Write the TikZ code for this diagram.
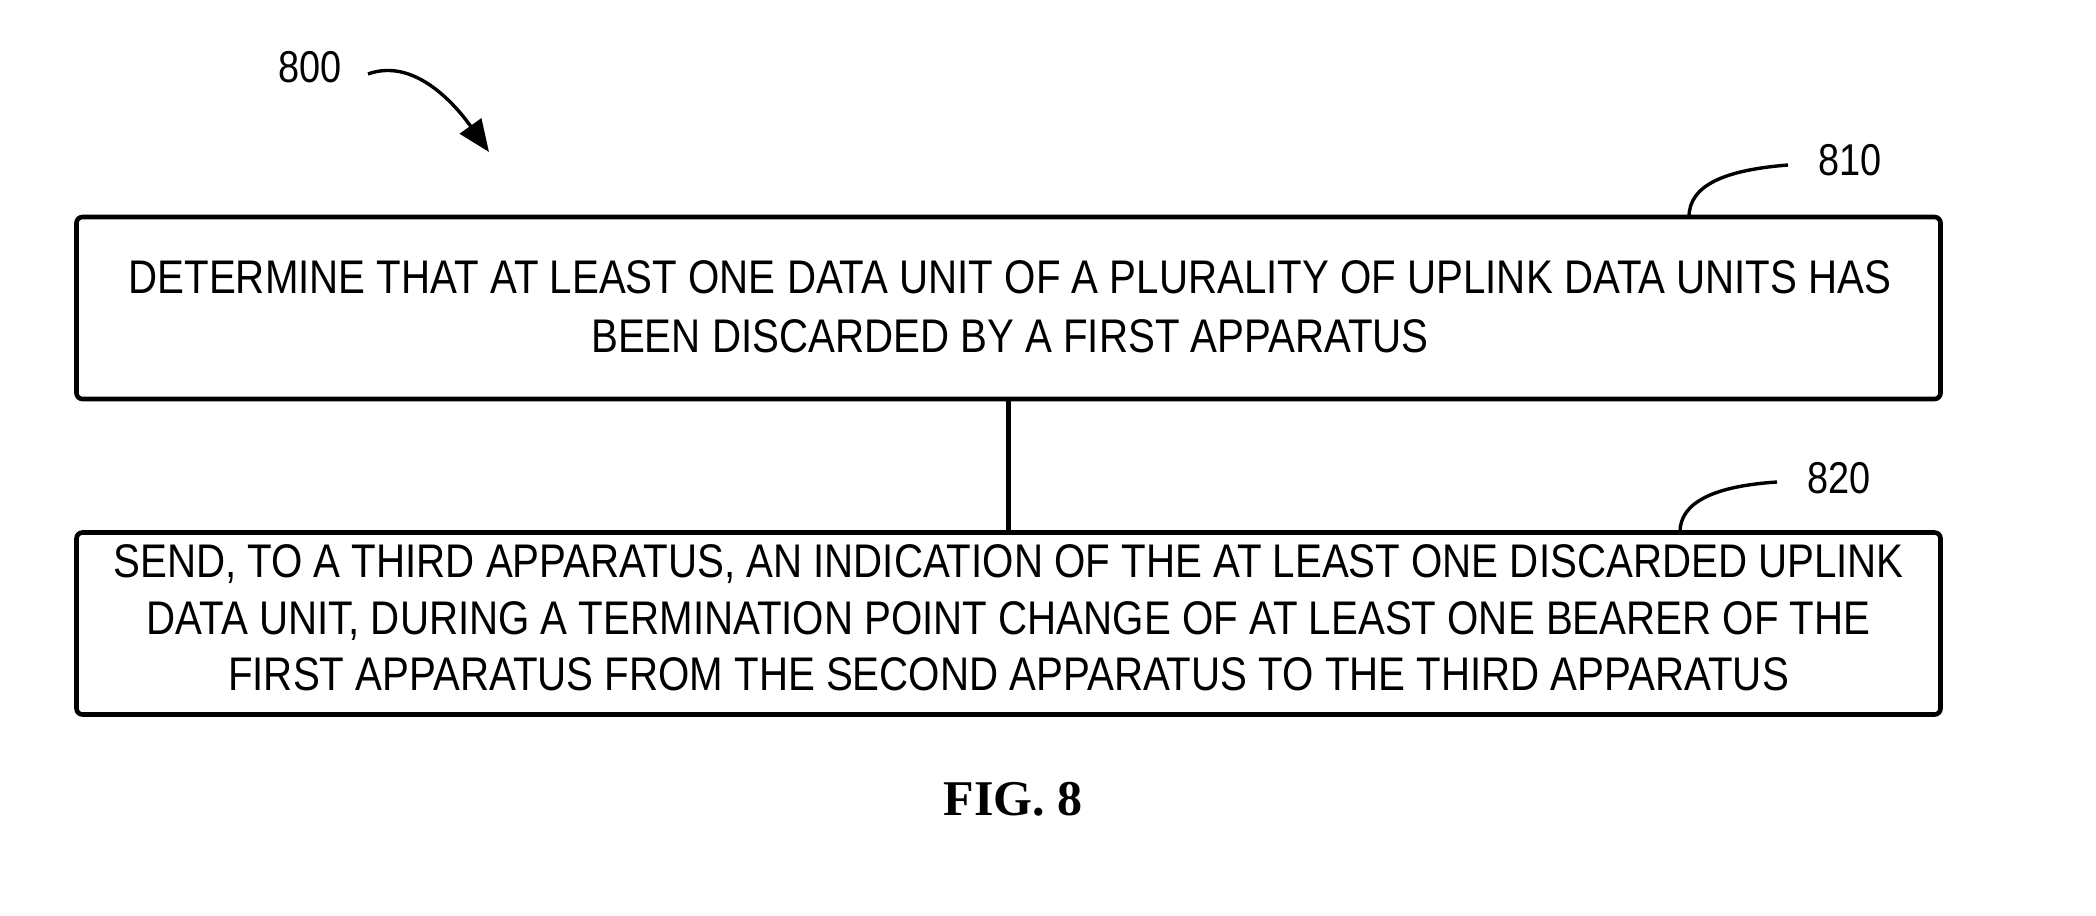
\documentclass[tikz,border=0pt]{standalone}
\usepackage{fontspec}
\newfontfamily\narrowfont{Liberation Sans}[FakeStretch=0.853]
\newfontfamily\labfont{Liberation Sans}[FakeStretch=0.85]
\newfontfamily\figfont{Liberation Serif}
\usetikzlibrary{arrows.meta}
\begin{document}
\begin{tikzpicture}[x=0.5pt,y=-0.5pt,
  stepbox/.style={draw, line width=2.3pt, rounded corners=3pt, minimum width=932pt, minimum height=91pt, inner sep=0pt},
  steptext/.style={align=center, inner sep=0pt},
  reflabel/.style={font=\labfont\fontsize{22.3}{26}\selectfont, inner sep=0pt},
  leader/.style={line width=1.7pt}]
\useasboundingbox (0,0) rectangle (2096,915);
\node[stepbox] (b1) at (1008.5,308) {};
\node[stepbox] (b2) at (1008.5,623.5) {};
\node[steptext, font=\narrowfont\fontsize{23.6}{29.7}\selectfont] (t1) at (1010,307)
  {DETERMINE THAT AT LEAST ONE DATA UNIT OF A PLURALITY OF UPLINK DATA UNITS HAS\\BEEN DISCARDED BY A FIRST APPARATUS};
\node[steptext, font=\narrowfont\fontsize{23.6}{28.3}\selectfont] (t2) at (1008.5,618)
  {SEND, TO A THIRD APPARATUS, AN INDICATION OF THE AT LEAST ONE DISCARDED UPLINK\\DATA UNIT, DURING A TERMINATION POINT CHANGE OF AT LEAST ONE BEARER OF THE\\FIRST APPARATUS FROM THE SECOND APPARATUS TO THE THIRD APPARATUS};
\draw[line width=2.3pt] (b1.south) -- (b2.north);
\node[reflabel] (n800) at (310,67) {800};
\node[reflabel] (n810) at (1850,160) {810};
\node[reflabel] (n820) at (1839,478) {820};
\coordinate (a800) at (368,74);
\coordinate (t800) at (489,152);
\draw[leader, -{Triangle[length=16pt,width=13pt]}] (a800) .. controls (412,58) and (452,100) .. (t800);
\coordinate (s810) at (1788,165);
\coordinate (e810) at (1689,217);
\draw[leader] (s810) .. controls (1725,170) and (1689,185) .. (e810);
\coordinate (s820) at (1777,482);
\coordinate (e820) at (1680,532);
\draw[leader] (s820) .. controls (1715,486) and (1680,502) .. (e820);
\node[font=\figfont\bfseries\fontsize{25}{30}\selectfont, inner sep=0pt, anchor=base] (fig) at (1013,815) {FIG. 8};
\end{tikzpicture}
\end{document}
